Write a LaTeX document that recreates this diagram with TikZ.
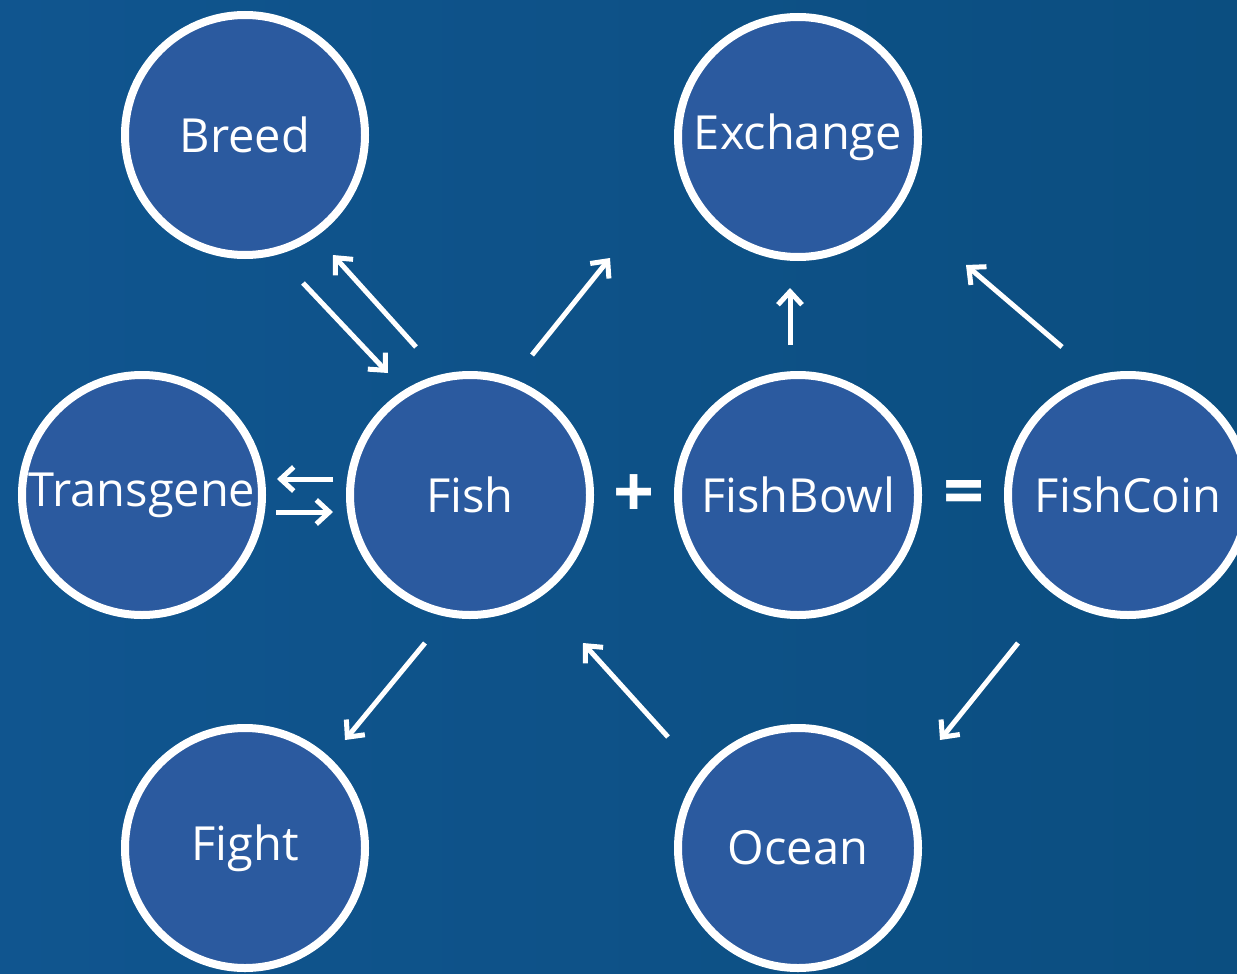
\documentclass[tikz,border=0pt]{standalone}
\usepackage{fontspec}
\setmainfont{Open Sans}
\usetikzlibrary{arrows.meta}
\definecolor{bgA}{HTML}{10558F}
\definecolor{bgB}{HTML}{0B4E80}
\definecolor{circfill}{HTML}{2B5A9F}
\tikzset{
  bubble/.style={circle, draw=white, line width=8pt, fill=circfill, minimum size=240pt, inner sep=0pt, text=white, font=\fontsize{47}{47}\selectfont},
  flow/.style={draw=white, line width=5pt, -{Straight Barb[length=13pt,width=24pt,line width=5pt]}},
  opsym/.style={text=white, inner sep=0pt, font=\fontsize{72}{72}\selectfont\bfseries}
}
\begin{document}
\begin{tikzpicture}[x=1pt,y=-1pt]
\shade[left color=bgA, right color=bgB] (0,0) rectangle (1237,974);
\useasboundingbox (0,0) rectangle (1237,974);
\begin{scope}
\clip (0,0) rectangle (1237,974);
\node[bubble] (breed) at (245,135) {Breed};
\node[bubble] (exchange) at (798,137) {Exchange};
\node[bubble] (transgene) at (142,495) {Transgene};
\node[bubble] (fish) at (470,495) {Fish};
\node[bubble] (fishbowl) at (798,495) {FishBowl};
\node[bubble] (fishcoin) at (1128,495) {FishCoin};
\node[bubble] (fight) at (245,848) {Fight};
\node[bubble] (ocean) at (798,848) {Ocean};
\end{scope}
\node[opsym] (plus) at (634,496) {+};
\node[opsym] (equals) at (964,498) {=};
% arrow end points
\coordinate (bf1) at (303,283); \coordinate (bf2) at (388,373);
\coordinate (fb1) at (416,347); \coordinate (fb2) at (333,255);
\coordinate (ft1) at (333,479); \coordinate (ft2) at (277,479);
\coordinate (tf1) at (276,512); \coordinate (tf2) at (333,512);
\coordinate (fe1) at (532,355); \coordinate (fe2) at (610,258);
\coordinate (be1) at (790,345); \coordinate (be2) at (790,288);
\coordinate (ce1) at (1062,347); \coordinate (ce2) at (966,265);
\coordinate (fg1) at (425,643); \coordinate (fg2) at (345,740);
\coordinate (of1) at (668,737); \coordinate (of2) at (583,643);
\coordinate (co1) at (1018,643); \coordinate (co2) at (940,740);
\draw[flow] (bf1) -- (bf2);
\draw[flow] (fb1) -- (fb2);
\draw[flow] (ft1) -- (ft2);
\draw[flow] (tf1) -- (tf2);
\draw[flow] (fe1) -- (fe2);
\draw[flow] (be1) -- (be2);
\draw[flow] (ce1) -- (ce2);
\draw[flow] (fg1) -- (fg2);
\draw[flow] (of1) -- (of2);
\draw[flow] (co1) -- (co2);
\end{tikzpicture}
\end{document}
